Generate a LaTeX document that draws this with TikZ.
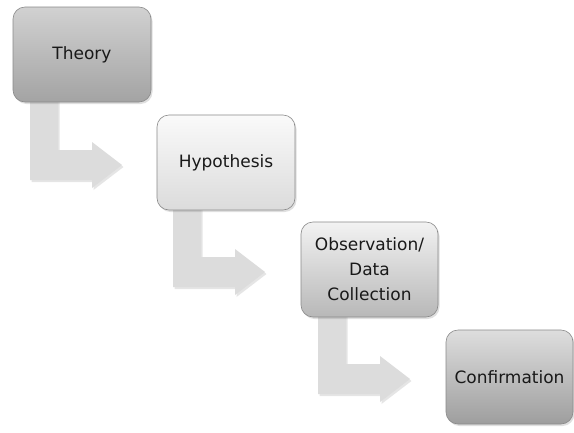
\documentclass[tikz,border=0pt]{standalone}
\usepackage{fontspec}
\setmainfont{DejaVu Sans}
\usetikzlibrary{shadows,calc}
\definecolor{arrowgray}{HTML}{DCDCDC}
\definecolor{boxline}{HTML}{8A8A8A}
\tikzset{
  stepbox/.style={draw=boxline, line width=0.6pt, rounded corners=12pt,
    minimum width=138pt, minimum height=95pt, align=center, inner sep=2pt,
    font=\fontsize{17}{25}\selectfont, text=black!90,
    drop shadow={opacity=0.25, shadow xshift=1.5pt, shadow yshift=-2pt}},
  bentarrow/.style={fill=arrowgray, draw=none,
    drop shadow={opacity=0.2, shadow xshift=1.5pt, shadow yshift=-2pt}},
}
\newcommand{\mybent}[2]{%
  \fill[bentarrow] (#1,#2) -- (#1+28,#2) -- (#1+28,#2+50) -- (#1+62,#2+50)
    -- (#1+62,#2+42) -- (#1+92,#2+65) -- (#1+62,#2+88) -- (#1+62,#2+80)
    -- (#1,#2+80) -- cycle;}
\begin{document}
\begin{tikzpicture}[x=1pt,y=-1pt]
\useasboundingbox[fill=white] (0,0) rectangle (574,432);
% arrows (behind boxes)
\mybent{30}{100}
\mybent{173}{207}
\mybent{318}{314}
% boxes
\node[stepbox, top color=black!18, bottom color=black!36] (theory) at (82,54.5) {Theory};
\node[stepbox, top color=black!2, bottom color=black!14] (hyp) at (226,162.5) {Hypothesis};
\node[stepbox, top color=black!5, bottom color=black!28, minimum width=137pt] (obs) at (369.5,269.5) {Observation/\\Data\\Collection};
\node[stepbox, top color=black!13, bottom color=black!38, minimum width=127pt, minimum height=94pt] (conf) at (509.5,377) {Confirmation};
\end{tikzpicture}
\end{document}
